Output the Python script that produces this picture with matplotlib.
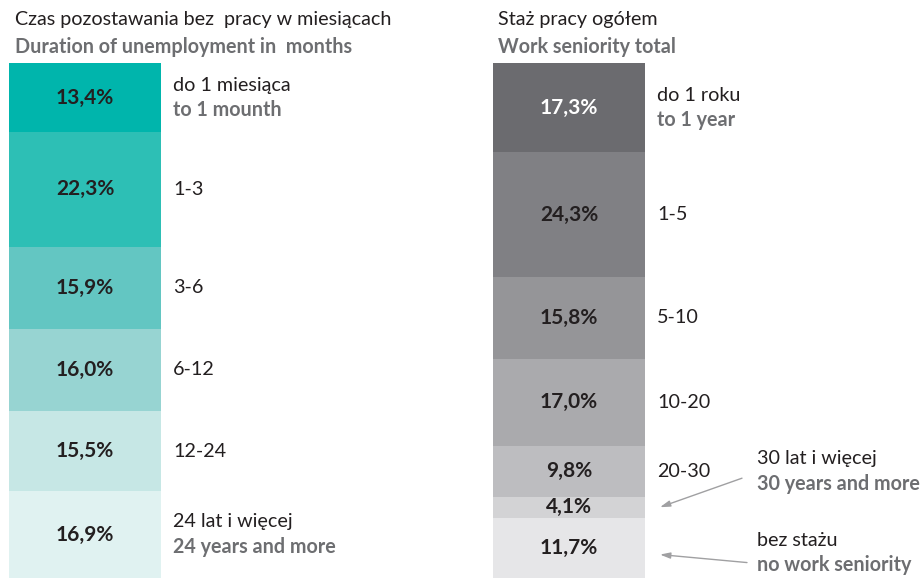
import matplotlib
matplotlib.use('Agg')
import matplotlib.pyplot as plt
import numpy as np

plt.rcParams['font.family'] = ['Lato', 'DejaVu Sans']

# --- data ---
left_title_pl = 'Czas pozostawania bez  pracy w miesiącach'
left_title_en = 'Duration of unemployment in  months'
left_values = [13.4, 22.3, 15.9, 16.0, 15.5, 16.9]
left_labels_pl = ['do 1 miesiąca', '1-3', '3-6', '6-12', '12-24', '24 lat i więcej']
left_labels_en = ['to 1 mounth', '', '', '', '', '24 years and more']
left_colors = ['#00b5ac', '#2dbfb5', '#63c6c2', '#97d4d2', '#c6e7e5', '#e0f2f1']

right_title_pl = 'Staż pracy ogółem'
right_title_en = 'Work seniority total'
right_values = [17.3, 24.3, 15.8, 17.0, 9.8, 4.1, 11.7]
right_labels_pl = ['do 1 roku', '1-5', '5-10', '10-20', '20-30', '30 lat i więcej', 'bez stażu']
right_labels_en = ['to 1 year', '', '', '', '', '30 years and more', 'no work seniority']
right_colors = ['#6b6b6f', '#808084', '#959598', '#aaaaad', '#bdbdc0', '#d3d3d5', '#e6e6e8']
right_value_colors = ['white'] + ['#231f20'] * 6

DARK = '#231f20'
GREY = '#6d6e71'
ARROW = '#a0a0a2'

W, H = 921, 578
fig = plt.figure(figsize=(W / 100, H / 100), dpi=100)
top_px = 63
ax = fig.add_axes([0, 0, 1, (H - top_px) / H])

px_per_unit = 484.0
bar_w = 152 / px_per_unit
ax.set_xlim(-85 / px_per_unit, (W - 85) / px_per_unit)
ax.set_ylim(100, 0)
ax.axis('off')

fs_lab = 14.2
fs_val = 15.0
off = 12  # px from bar edge to label text
line_gap = 12.5  # px half distance between two text lines


def draw_bar(xpos, values, colors, val_colors, labels_pl, labels_en, arrow_from=None):
    bottoms = np.concatenate([[0], np.cumsum(values)[:-1]])
    ax.bar([xpos] * len(values), values, bottom=bottoms, width=bar_w,
           color=colors, edgecolor='none', align='center')
    edge = xpos + bar_w / 2
    for i, (v, b) in enumerate(zip(values, bottoms)):
        yc = b + v / 2
        ax.text(xpos, yc, f'{v:.1f}%'.replace('.', ','), ha='center', va='center',
                fontsize=fs_val, fontweight='bold', color=val_colors[i])
        if arrow_from is not None and i >= arrow_from:
            continue
        if labels_en[i]:
            ax.annotate(labels_pl[i], (edge, yc), xytext=(off * 0.72, line_gap * 0.72),
                        textcoords='offset points', ha='left', va='center',
                        fontsize=fs_lab, color=DARK)
            ax.annotate(labels_en[i], (edge, yc), xytext=(off * 0.72, -line_gap * 0.72),
                        textcoords='offset points', ha='left', va='center',
                        fontsize=fs_lab, fontweight='bold', color=GREY)
        else:
            ax.annotate(labels_pl[i], (edge, yc), xytext=(off * 0.72, 0),
                        textcoords='offset points', ha='left', va='center',
                        fontsize=fs_lab, color=DARK)
    return edge, bottoms


draw_bar(0, left_values, left_colors, [DARK] * 6, left_labels_pl, left_labels_en)
edge_r, bot_r = draw_bar(1, right_values, right_colors, right_value_colors,
                         right_labels_pl, right_labels_en, arrow_from=5)

# callouts for the two small bottom segments of the right bar
callouts = [(5, 0.0, (82, 29), (97, 36)), (6, 1.3, (87, -8), (97, 2))]
for i, dy, tail, txt in callouts:
    yc = bot_r[i] + right_values[i] / 2 + dy
    tip = (edge_r + 15 / px_per_unit, yc)
    ax.annotate('', xy=tip, xytext=(tail[0] * 0.72, tail[1] * 0.72),
                textcoords='offset points',
                arrowprops=dict(arrowstyle='-|>,head_length=0.6,head_width=0.18',
                                color=ARROW, lw=1.0, shrinkA=0, shrinkB=0))
    ax.annotate(right_labels_pl[i], tip, xytext=(txt[0] * 0.72, (txt[1] + line_gap) * 0.72),
                textcoords='offset points', ha='left', va='center',
                fontsize=fs_lab, color=DARK)
    ax.annotate(right_labels_en[i], tip, xytext=(txt[0] * 0.72, (txt[1] - line_gap) * 0.72),
                textcoords='offset points', ha='left', va='center',
                fontsize=fs_lab, fontweight='bold', color=GREY)

# titles
fig.text(15 / W, 1 - 20 / H, left_title_pl, ha='left', va='center', fontsize=fs_lab, color=DARK)
fig.text(15 / W, 1 - 47 / H, left_title_en, ha='left', va='center', fontsize=fs_lab,
         fontweight='bold', color=GREY)
fig.text(498 / W, 1 - 20 / H, right_title_pl, ha='left', va='center', fontsize=fs_lab, color=DARK)
fig.text(498 / W, 1 - 47 / H, right_title_en, ha='left', va='center', fontsize=fs_lab,
         fontweight='bold', color=GREY)

fig.savefig('out.png', dpi=100, facecolor='white')
